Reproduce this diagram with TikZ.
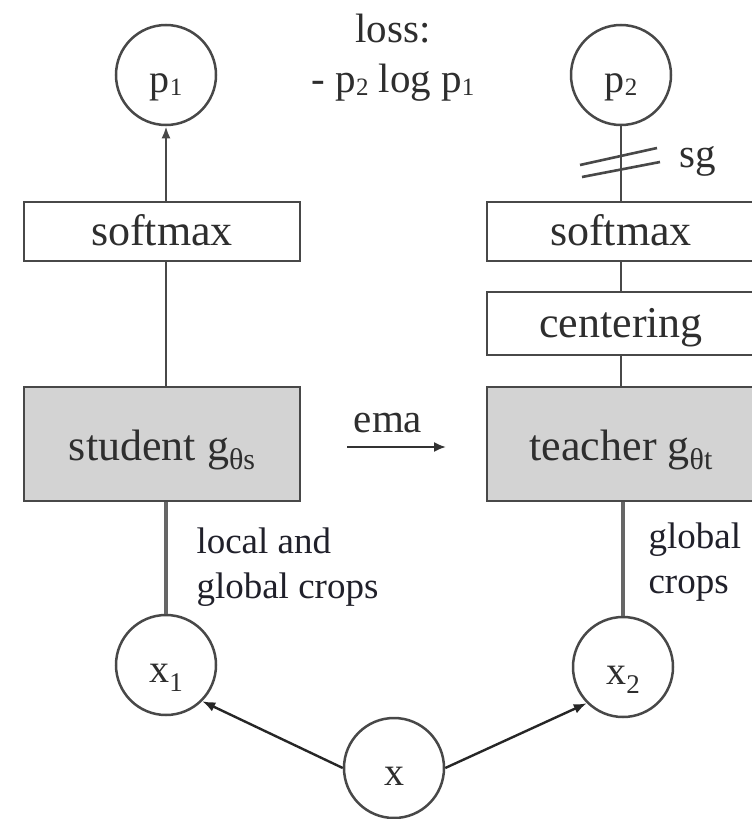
\documentclass[tikz,border=0pt]{standalone}
\usepackage{fontspec}
\setmainfont{Liberation Serif}
\usetikzlibrary{arrows.meta}
\newcommand{\lowsub}[3][0.2em]{\raisebox{-#1}{\fontsize{#2}{#2}\selectfont #3}}
\definecolor{edgecol}{HTML}{484848}
\definecolor{boxfill}{HTML}{D3D3D3}
\definecolor{txtcol}{HTML}{2E2E2E}
\definecolor{lblcol}{HTML}{20202A}
\definecolor{thickcol}{HTML}{666666}
\begin{document}
\begin{tikzpicture}[x=1pt,y=-1pt,
  mainfont/.style={font=\fontsize{41}{46}\selectfont, text=txtcol},
  boxfont/.style={font=\fontsize{44}{48}\selectfont, text=txtcol},
  lblfont/.style={font=\fontsize{37}{45}\selectfont, text=lblcol},
  whitebox/.style={draw=edgecol, line width=2.8pt, fill=white, inner sep=0pt, boxfont, text height=27pt, text depth=0pt},
  graybox/.style={whitebox, fill=boxfill, text height=32pt},
  circ/.style={circle, draw=edgecol, line width=2.5pt, minimum size=100pt, inner sep=0pt,
    font=\fontsize{40}{44}\selectfont, text=txtcol, text height=35pt, text depth=0pt},
  conn/.style={draw=edgecol, line width=2.6pt},
  thickconn/.style={draw=thickcol, line width=4.5pt},
  arr/.style={draw=black!85, line width=2.4pt, -{Latex[length=13pt,width=10pt]}},
]
\useasboundingbox (0,0) rectangle (752,819);
\clip (0,0) rectangle (752,819);
\fill[white] (0,0) rectangle (752,819);

% left column
\node[circ] (p1) at (166,75) {p\lowsub[0.08em]{25}{1}};
\node[whitebox, minimum width=276pt, minimum height=59pt] (smL) at (162,231.5) {softmax};
\node[graybox, minimum width=276pt, minimum height=114pt] (stu) at (162,444) {student g\lowsub[0.22em]{30}{θs}};
\node[circ] (x1) at (166,665) {x\lowsub[0.22em]{27}{1}};

% right column
\node[circ] (p2) at (621,75) {p\lowsub[0.08em]{25}{2}};
\node[whitebox, minimum width=268pt, minimum height=59pt] (smR) at (621,231.5) {softmax};
\node[whitebox, minimum width=268pt, minimum height=63pt] (cen) at (621,323.5) {centering};
\node[graybox, minimum width=268pt, minimum height=114pt] (tea) at (621,444) {teacher g\lowsub[0.22em]{30}{θt}};
\node[circ] (x2) at (623,667) {x\lowsub[0.22em]{27}{2}};

% input
\node[circ] (x) at (394,768) {x};

% loss text
\node[mainfont, anchor=base] (loss1) at (393,42) {loss:};
\node[mainfont, anchor=base] (loss2) at (393,92) {- p\lowsub[0.08em]{25}{2} log p\lowsub[0.08em]{25}{1}};

% connectors left
\draw[conn, -{Latex[length=12pt,width=9pt]}] (smL.north -| p1) -- (p1.south);
\draw[conn] (smL.south -| p1) -- (stu.north -| p1);
\draw[thickconn] (stu.south -| x1) -- (x1.north);

% connectors right
\draw[conn] (p2.south) -- (smR.north -| p2);
\draw[conn] (smR.south -| p2) -- (cen.north -| p2);
\draw[conn] (cen.south -| p2) -- (tea.north -| p2);
\draw[thickconn] (tea.south -| x2) -- (x2.north);

% stop-gradient marks
\draw[conn] ([shift={(-41,90)}]p2.center) -- ++(77,-17);
\draw[conn] ([shift={(-39,102)}]p2.center) -- ++(78,-15);
\node[mainfont, anchor=base west] (sg) at (676,167) {sg};

% ema arrow
\coordinate (emaA) at (347,447);
\coordinate (emaB) at (446,447);
\draw[draw=black!80, line width=2pt, -{Latex[length=12pt,width=10pt]}] (emaA) -- (emaB);
\node[mainfont, anchor=base] (ema) at (388,432) {ema};

% input arrows
\draw[arr] (x.west) -- (x1.south east);
\draw[arr] (x.east) -- (x2.south west);

% crop labels (base anchor = last line baseline)
\node[lblfont, anchor=base west, align=left] (lblL) at (193,598) {local and\\global crops};
\node[lblfont, anchor=base west, align=left] (lblR) at (645,593) {global\\crops};
\end{tikzpicture}
\end{document}
